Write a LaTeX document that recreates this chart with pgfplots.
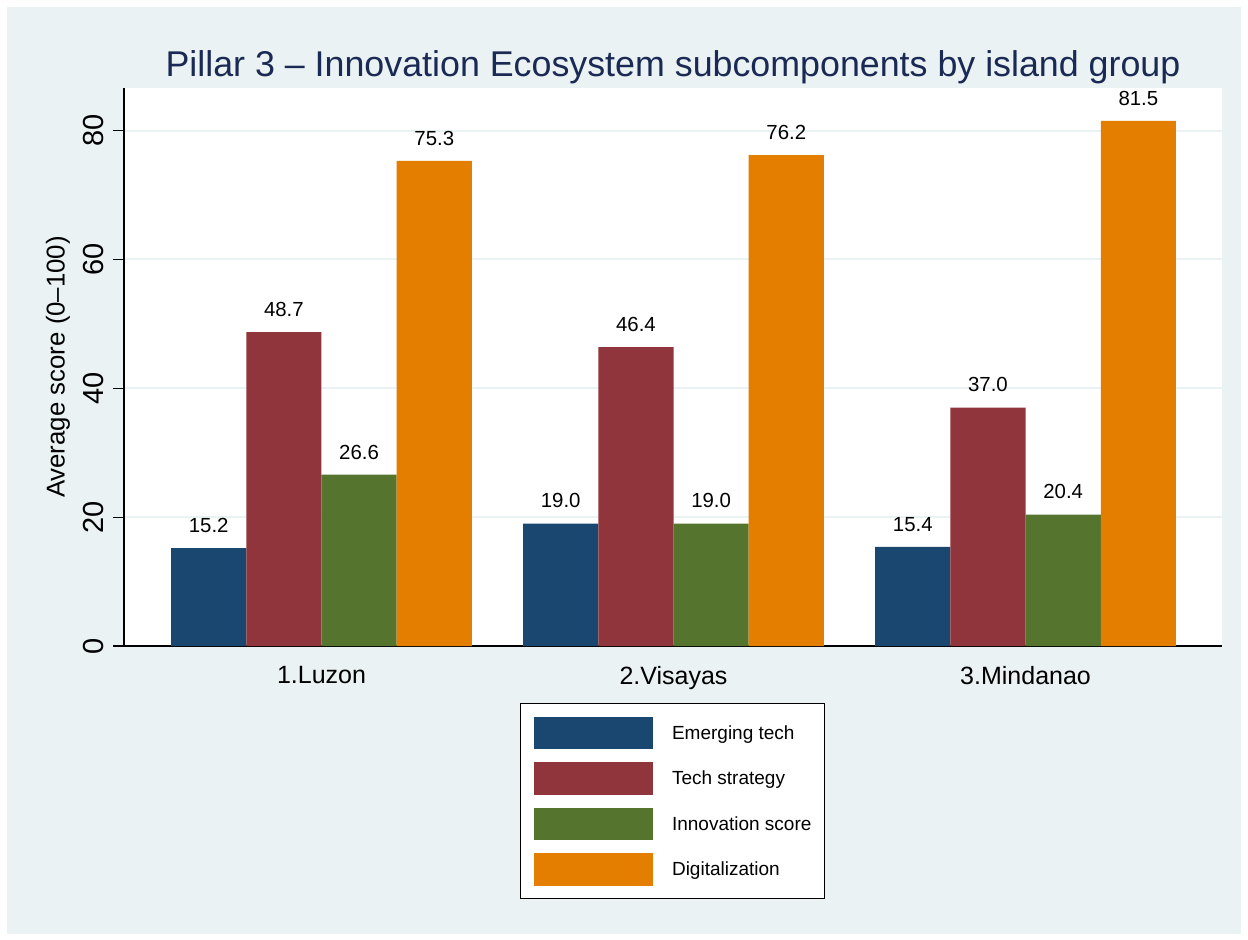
\documentclass[border=0pt]{standalone}
\usepackage{fontspec}
\setmainfont{Liberation Sans}
\usepackage{pgfplots}
\pgfplotsset{compat=1.18}

\definecolor{bgc}{HTML}{EAF2F3}
\definecolor{gridc}{HTML}{EAF2F3}
\definecolor{navy}{HTML}{1A476F}
\definecolor{maroon}{HTML}{90353B}
\definecolor{fgreen}{HTML}{55752F}
\definecolor{dkorange}{HTML}{E37E00}
\definecolor{titlec}{HTML}{1A2A55}

\begin{document}
\begin{tikzpicture}
% page and outer panel (axis box lower left is at 0,0)
\path[use as bounding box] (-62pt,-146.5pt) rectangle (562pt,323pt);
\fill[white] (-62pt,-146.5pt) rectangle (562pt,323pt);
\fill[bgc] (-58.5pt,-144pt) rectangle (558.5pt,319.5pt);
\begin{axis}[
    scale only axis,
    width=549pt, height=279pt,
    xmin=0.439, xmax=3.558,
    ymin=0, ymax=86.6,
    ybar=0pt, bar width=37.6pt,
    every axis plot post/.append style={
        /pgfplots/legend image code/.code={\fill[##1,/tikz/.cd,draw=none] (0pt,-7.6pt) rectangle (59.5pt,8.6pt);}},
    axis background/.style={fill=white},
    axis x line*=bottom, axis y line*=left,
    axis line style={line width=1pt, black, -},
    xtick={1,2,3},
    xticklabels={1.Luzon,2.Visayas,3.Mindanao},
    x tick style={draw=none},
    xticklabel style={font=\fontsize{12.5}{14}\selectfont, inner sep=0pt, anchor=north, yshift=-4.5pt},
    ytick={0,20,40,60,80},
    tick align=outside,
    major tick length=5.5pt,
    y tick style={line width=0.6pt, black},
    yticklabel style={font=\fontsize{14.5}{15}\selectfont, xshift=-4.5pt, rotate=90, anchor=south, inner sep=0pt},
    /pgf/number format/assume math mode=true,
    ymajorgrids,
    grid style={line width=1pt, gridc},
    ylabel={Average score (0--100)},
    every axis y label/.style={at={(rel axis cs:-0.0601,0.5)}, rotate=90, anchor=center, font=\fontsize{12.9}{14}\selectfont},
    title={Pillar 3 -- Innovation Ecosystem subcomponents by island group},
    title style={at={(0.5,1)}, anchor=base, yshift=-0.5pt, font=\fontsize{17.9}{20}\selectfont, text=titlec},
    nodes near coords={\pgfmathprintnumber[fixed,fixed zerofill,precision=1]{\pgfplotspointmeta}},
    every node near coord/.append style={font=\fontsize{10.2}{12}\selectfont, black, inner sep=0pt, anchor=south, yshift=7.5pt},
    legend style={at={(0.3607,-0.1022)}, anchor=north west, draw=black, line width=0.6pt, fill=white,
        inner xsep=6.5pt, inner ysep=6.5pt, row sep=6.6pt,
        font=\fontsize{9.5}{11}\selectfont,
        nodes={inner sep=0pt, anchor=mid west},
        /tikz/every odd column/.append style={column sep=9.7pt}},
]
\addplot[fill=navy, draw=none] coordinates {(1,15.2) (2,19.0) (3,15.4)};
\addplot[fill=maroon, draw=none] coordinates {(1,48.7) (2,46.4) (3,37.0)};
\addplot[fill=fgreen, draw=none] coordinates {(1,26.6) (2,19.0) (3,20.4)};
\addplot[fill=dkorange, draw=none] coordinates {(1,75.3) (2,76.2) (3,81.5)};
\legend{Emerging tech,Tech strategy,Innovation score,Digitalization}
\end{axis}
\end{tikzpicture}
\end{document}
